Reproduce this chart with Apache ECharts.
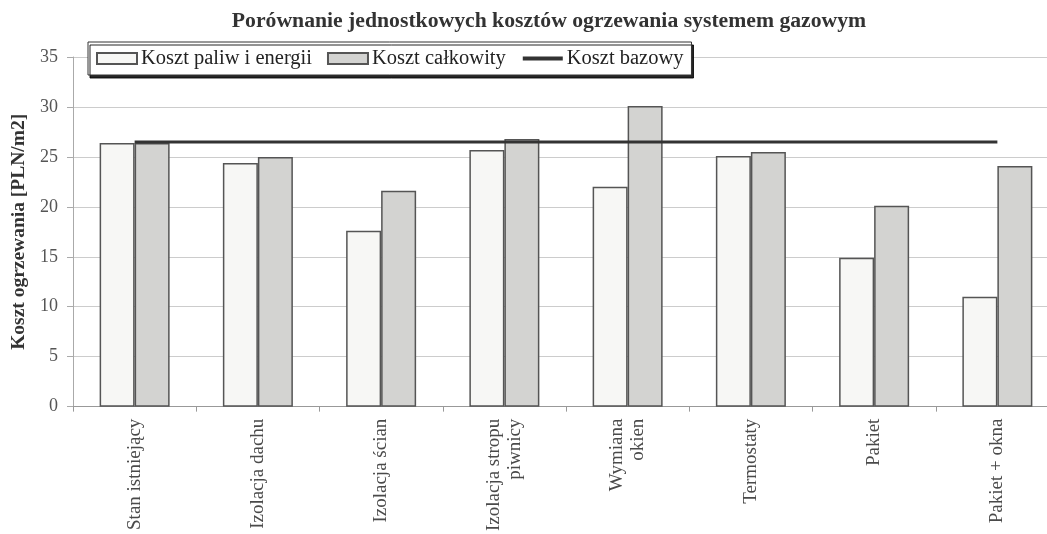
<!DOCTYPE html>
<html>
<head>
<meta charset="utf-8">
<script src="https://cdn.jsdelivr.net/npm/echarts@6/dist/echarts.min.js"></script>
<style>
html, body { margin: 0; padding: 0; background: #fff; overflow: hidden; }
#chart { width: 1062px; height: 534px; }
</style>
</head>
<body>
<div id="chart"></div>
<script>
// dane
var categories = ['Stan istniejący', 'Izolacja dachu', 'Izolacja ścian', 'Izolacja stropu\npiwnicy',
	'Wymiana\nokien', 'Termostaty', 'Pakiet', 'Pakiet + okna'];
var kosztPaliw = [26.4, 24.4, 17.6, 25.7, 22.0, 25.1, 14.9, 11.0];
var kosztCalkowity = [26.4, 25.0, 21.6, 26.8, 30.1, 25.5, 20.1, 24.1];
var kosztBazowy = [26.5, 26.5, 26.5, 26.5, 26.5, 26.5, 26.5, 26.5];
var seriesNames = ['Koszt paliw i energii', 'Koszt całkowity', 'Koszt bazowy'];

var serif = '"Liberation Serif", "DejaVu Serif", serif';
var myChart = echarts.init(document.getElementById('chart'));

var option = {
	animation: false,
	backgroundColor: '#fff',
	title: {
		text: 'Porównanie jednostkowych kosztów ogrzewania systemem gazowym',
		left: 544,
		textAlign: 'center',
		top: 5,
		textStyle: { fontFamily: serif, fontSize: 21.7, fontWeight: 'bold', color: '#333' }
	},
	legend: {
		left: 88,
		top: 42,
		padding: [6, 8, 6, 8],
		itemGap: 15,
		itemWidth: 40,
		itemHeight: 11,
		backgroundColor: '#fff',
		borderColor: '#333',
		borderWidth: 1,
		shadowColor: 'rgba(0,0,0,0.85)',
		shadowOffsetX: 2,
		shadowOffsetY: 3,
		shadowBlur: 0,
		textStyle: { fontFamily: serif, fontSize: 20.5, color: '#222', padding: [0, 0, 0, -1] },
		data: [
			{ name: seriesNames[0], icon: 'rect' },
			{ name: seriesNames[1], icon: 'rect' },
			{ name: seriesNames[2], itemStyle: { opacity: 0 }, lineStyle: { width: 4, color: '#333' } }
		]
	},
	grid: { left: 73, top: 57, width: 986, bottom: 127, containLabel: false },
	xAxis: {
		type: 'category',
		data: categories,
		axisLine: { lineStyle: { color: '#999' } },
		axisTick: { show: true, length: 5, lineStyle: { color: '#999' } },
		axisLabel: {
			rotate: 90,
			interval: 0,
			margin: 12,
			fontFamily: serif,
			fontSize: 19,
			color: '#4a4a4a',
			lineHeight: 21
		}
	},
	yAxis: {
		type: 'value',
		min: 0,
		max: 35,
		interval: 5,
		name: 'Koszt ogrzewania [PLN/m2]',
		nameLocation: 'middle',
		nameGap: 42,
		nameTextStyle: { fontFamily: serif, fontSize: 19.5, fontWeight: 'bold', color: '#333' },
		axisLine: { show: true, lineStyle: { color: '#aaa' } },
		axisTick: { show: true, length: 6, lineStyle: { color: '#aaa' } },
		axisLabel: { fontFamily: serif, fontSize: 18, color: '#555', margin: 15 },
		splitLine: { lineStyle: { color: '#ccc', width: 1 } }
	},
	series: [
		{
			name: seriesNames[0],
			type: 'bar',
			barWidth: 35,
			barGap: '0%',
			data: kosztPaliw,
			itemStyle: { color: '#f7f7f5', borderColor: '#555', borderWidth: 1.5 }
		},
		{
			name: seriesNames[1],
			type: 'bar',
			barWidth: 35,
			barGap: '0%',
			data: kosztCalkowity,
			itemStyle: { color: '#d3d3d1', borderColor: '#555', borderWidth: 1.5 }
		},
		{
			name: seriesNames[2],
			type: 'line',
			symbol: 'none',
			data: kosztBazowy,
			z: 5,
			lineStyle: { color: '#333', width: 3 },
			itemStyle: { color: '#333' }
		}
	]
};

myChart.setOption(option);
</script>
</body>
</html>
